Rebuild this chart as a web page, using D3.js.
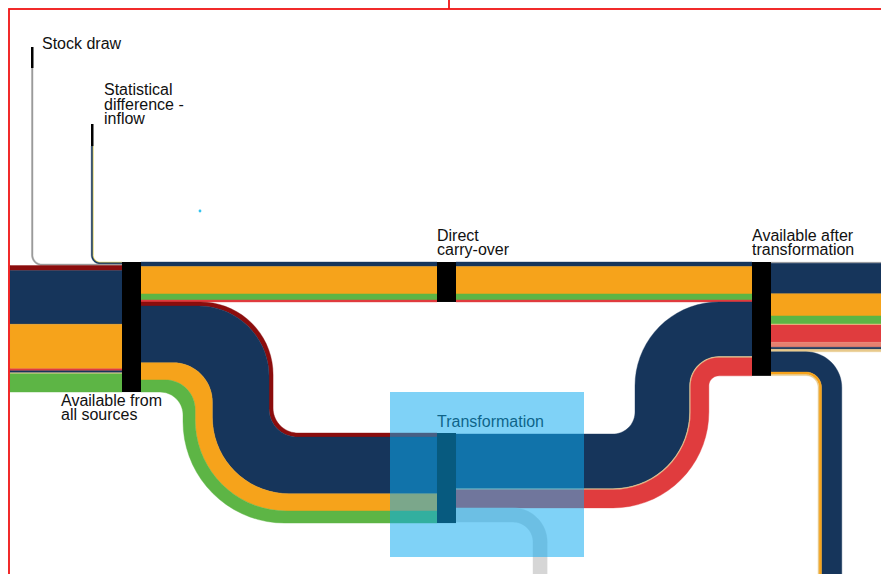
<!DOCTYPE html>
<html>
<head>
<meta charset="utf-8">
<script src="https://cdn.jsdelivr.net/npm/d3@7"></script>
<style>
  body { margin: 0; background: #fff; }
  svg { display: block; }
  text { font-family: "Liberation Sans", Arial, sans-serif; font-size: 16px; fill: #111; }
</style>
</head>
<body>
<div id="chart"></div>
<script>

var svgWidth = 881;
var svgHeight = 574;

// fuel colours
var fuelKeys   = ["coal", "oil", "gas", "renewables", "electricity", "heat", "waste", "stock", "statistical", "losses"];
var fuelColors = ["#8b0d0d", "#16355b", "#f6a31b", "#5db545", "#e03c3e", "#e8c98b", "#e6806f", "#9b9b9b", "#e2cf48", "#d6d6d6"];

// flows, in PJ, top to bottom
var statDiffFlow  = [["statistical", 14], ["oil", 26]];
var stockDrawFlow = [["stock", 30]];
var supplyFlow    = [["coal", 100], ["oil", 1060], ["gas", 880], ["electricity", 40], ["oil", 40], ["heat", 20], ["renewables", 360]];
var carryOverFlow = [["oil", 90], ["gas", 540], ["renewables", 120], ["electricity", 40]];
var toTransFlow   = [["coal", 80], ["oil", 1120], ["gas", 340], ["renewables", 240]];
var fromTransFlow = [["oil", 1080], ["heat", 20], ["electricity", 360]];
var lossesFlow    = [["losses", 280]];
var onwardFlow    = [["stock", 20], ["oil", 600], ["gas", 440], ["renewables", 160], ["heat", 20], ["electricity", 340], ["waste", 100], ["oil", 40], ["heat", 50]];
var downFlow      = [["oil", 400], ["gas", 50], ["heat", 20]];

// nodes and their labels
var nodeNames  = ["stock", "statdiff", "sources", "carry", "transformation", "after"];
var nodeLabels = [["Stock draw"], ["Statistical", "difference -", "inflow"], ["Available from", "all sources"],
                  ["Direct", "carry-over"], ["Transformation"], ["Available after", "transformation"]];

// where things go on the page
var layout = {
  stock:          { x: 31,  y: 47,  w: 2.5, tick: 21, lx: 42,  ly: 48.5 },
  statdiff:       { x: 91,  y: 124, w: 2.5, tick: 22, lx: 104, ly: 95 },
  sources:        { x: 122, y: 262, w: 19, lx: 61,  ly: 405.5 },
  carry:          { x: 437, y: 262, w: 19, lx: 437, ly: 240.5 },
  transformation: { x: 437, y: 433, w: 19, lx: 437, ly: 426.5 },
  after:          { x: 752, y: 262, w: 19, lx: 752, ly: 240.5 }
};

var links = [
  { flow: statDiffFlow,  source: "statdiff", target: "sources", shape: "feed", r: 7 },
  { flow: stockDrawFlow, source: "stock", target: "sources", shape: "feed", r: 9 },
  { flow: supplyFlow,    source: null, target: "sources", shape: "straight", x0: 10 },
  { flow: carryOverFlow, source: "sources", target: "carry", shape: "straight" },
  { flow: toTransFlow,   source: "sources", target: "transformation", shape: "down", xv: 183, r1: 23, k1: 0.55, r2: 25, k2: 0.85 },
  { flow: carryOverFlow, source: "carry", target: "after", shape: "straight" },
  { flow: fromTransFlow, source: "transformation", target: "after", shape: "up", xv: 635, r1: 22, r2: 10 },
  { flow: lossesFlow,    source: "transformation", target: null, shape: "drop", xv: 533, r1: 20, yEnd: 590 },
  { flow: onwardFlow,    source: "after", target: null, shape: "straight", x1: 890 },
  { flow: downFlow,      source: "after", target: null, shape: "drop", xv: 818, r1: 12, yEnd: 590 }
];

var color = d3.scaleOrdinal().domain(fuelKeys).range(fuelColors);

// PJ -> pixels
var thickness = d3.scaleLinear().domain([0, 1000]).range([0, 50.6]);

var svg = d3.select('#chart')
  .append('svg')
  .attr('width', svgWidth)
  .attr('height', svgHeight);

// link widths and node sizes
links.forEach(function (l) {
  l.width = d3.sum(l.flow, function (f) { return thickness(f[1]); });
});

var nodes = {};
nodeNames.forEach(function (name, i) {
  var p = layout[name];
  var inT = d3.sum(links.filter(function (l) { return l.target === name; }), function (l) { return l.width; });
  var outT = d3.sum(links.filter(function (l) { return l.source === name; }), function (l) { return l.width; });
  nodes[name] = { name: name, x: p.x, y: p.y, w: p.w, tick: p.tick, h: p.tick ? p.tick : Math.max(inT, outT),
                  inT: inT, outT: outT, inY: 0, outY: 0, label: nodeLabels[i], lx: p.lx, ly: p.ly };
});

// stack links on their nodes
links.forEach(function (l) {
  var s = l.source ? nodes[l.source] : null;
  var t = l.target ? nodes[l.target] : null;
  if (s) {
    if (s.tick) {
      l.xs = s.x + s.w / 2 + l.width / 2;
      l.ys = s.y + s.tick;
    } else {
      l.xs = s.x + s.w;
      l.ys = s.y + (s.h - s.outT) / 2 + s.outY;
      s.outY += l.width;
    }
  }
  if (t) {
    l.xt = t.x;
    l.yt = t.y + (t.h - t.inT) / 2 + t.inY;
    t.inY += l.width;
  }
  if (!s) { l.xs = l.x0; l.ys = l.yt; }
  if (!t && l.shape === "straight") { l.xt = l.x1; l.yt = l.ys; }
});

function arc(cx, cy, r, a0, a1) {
  var pts = [];
  for (var i = 0; i <= 18; i++) {
    var a = a0 + (a1 - a0) * i / 18;
    pts.push([cx + r * Math.cos(a), cy + r * Math.sin(a)]);
  }
  return pts;
}

// one edge line of a link, d pixels from its top
function edge(l, d) {
  var W = l.width;
  var k1 = l.k1 == null ? 1 : l.k1;
  var k2 = l.k2 == null ? 1 : l.k2;
  var ys, yt, xv, R1, R2;
  if (l.shape === "straight") {
    return [[l.xs, l.ys + d], [l.xt, l.yt + d]];
  }
  if (l.shape === "down") {
    ys = l.ys + d; yt = l.yt + d; xv = l.xv + W - d;
    R1 = l.r1 + k1 * (W - d); R2 = l.r2 + k2 * d;
    return [[l.xs, ys]].concat(arc(xv - R1, ys + R1, R1, -Math.PI / 2, 0),
                               arc(xv + R2, yt - R2, R2, Math.PI, Math.PI / 2), [[l.xt, yt]]);
  }
  if (l.shape === "up") {
    ys = l.ys + d; yt = l.yt + d; xv = l.xv + d;
    R1 = l.r1 + k1 * d; R2 = l.r2 + k2 * (W - d);
    return [[l.xs, ys]].concat(arc(xv - R1, ys - R1, R1, Math.PI / 2, 0),
                               arc(xv + R2, yt + R2, R2, Math.PI, 1.5 * Math.PI), [[l.xt, yt]]);
  }
  if (l.shape === "drop") {
    ys = l.ys + d; xv = l.xv + W - d; R1 = l.r1 + k1 * (W - d);
    return [[l.xs, ys]].concat(arc(xv - R1, ys + R1, R1, -Math.PI / 2, 0), [[xv, l.yEnd]]);
  }
  if (l.shape === "feed") {
    xv = l.xs - d; yt = l.yt + d; R1 = l.r + k1 * d;
    return [[xv, l.ys]].concat(arc(xv + R1, yt - R1, R1, Math.PI, Math.PI / 2), [[l.xt, yt]]);
  }
}

var line = d3.line();

// one band per fuel inside every link
var bands = [];
links.forEach(function (l) {
  var cum = 0;
  l.flow.forEach(function (f) {
    var d0 = cum, d1 = cum + thickness(f[1]);
    cum = d1;
    bands.push({ fuel: f[0], pts: edge(l, d0).concat(edge(l, d1).reverse()) });
  });
});

svg.append('g').selectAll('path')
  .data(bands)
  .enter()
  .append('path')
  .attr('d', function (b) { return line(b.pts) + 'Z'; })
  .style('fill', function (b) { return color(b.fuel); })
  .style('stroke', function (b) { return color(b.fuel); })
  .style('stroke-width', 0.4);

var nodeList = nodeNames.map(function (n) { return nodes[n]; });

// black node bars
svg.append('g').selectAll('rect')
  .data(nodeList)
  .enter()
  .append('rect')
  .attr('x', function (n) { return n.x; })
  .attr('y', function (n) { return n.y; })
  .attr('width', function (n) { return n.w; })
  .attr('height', function (n) { return n.h; })
  .style('fill', '#000');

function drawLabel(g, n) {
  var t = g.append('text').attr('x', n.lx).attr('y', n.ly);
  n.label.forEach(function (s, i) {
    t.append('tspan').attr('x', n.lx).attr('y', n.ly + i * 14.5).text(s);
  });
}

var labels = svg.append('g');
drawLabel(labels, nodes.transformation);

// transformation box
svg.append('rect')
  .attr('x', 390).attr('y', 392)
  .attr('width', 194).attr('height', 165)
  .style('fill', '#0eaaf0')
  .style('opacity', 0.53);

var labels2 = svg.append('g');
nodeList.filter(function (n) { return n.name !== "transformation"; })
  .forEach(function (n) { drawLabel(labels2, n); });

// small dot
svg.append('circle').attr('cx', 200).attr('cy', 211).attr('r', 1.4).style('fill', '#35c4ef');

// red frame
svg.append('rect')
  .attr('x', 9).attr('y', 9)
  .attr('width', 920).attr('height', 620)
  .style('fill', 'none')
  .style('stroke', '#f01414')
  .style('stroke-width', 1.8);

svg.append('line')
  .attr('x1', 449).attr('x2', 449)
  .attr('y1', 0).attr('y2', 9)
  .style('stroke', '#f01414')
  .style('stroke-width', 1.8);

</script>
</body>
</html>
